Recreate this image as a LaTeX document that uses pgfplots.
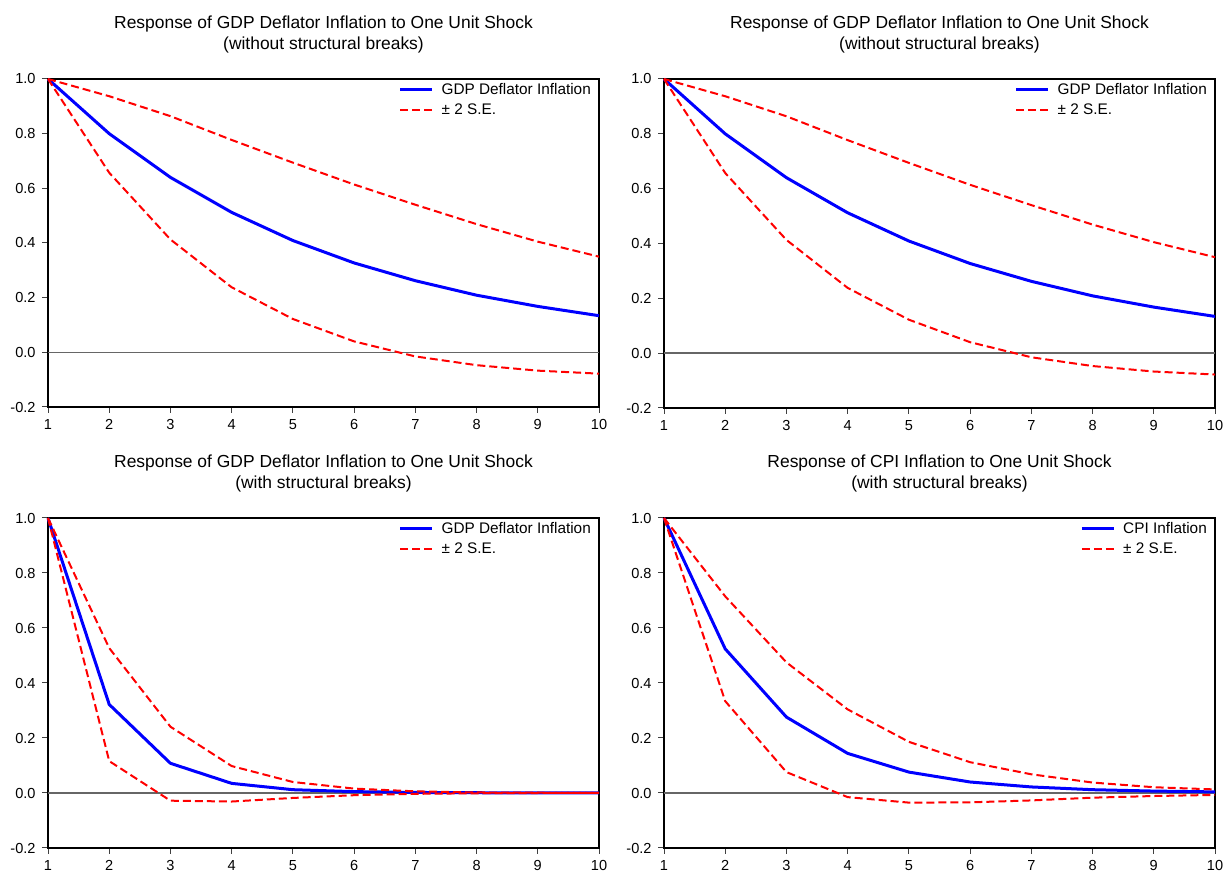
\documentclass[border=0pt]{standalone}
\usepackage{fontspec}
\setmainfont{Liberation Sans}
\usepackage{pgfplots}
\pgfplotsset{compat=1.18}
\definecolor{eblue}{RGB}{0,0,255}
\definecolor{ered}{RGB}{255,0,0}

\pgfplotsset{
 irf/.style={
  width=551bp, scale only axis,
  xmin=1, xmax=10, ymin=-0.2, ymax=1.0,
  xtick={1,2,3,4,5,6,7,8,9,10}, xticklabels={1,2,3,4,5,6,7,8,9,10},
  ytick={-0.2,0,0.2,0.4,0.6,0.8,1.0}, yticklabels={-0.2,0.0,0.2,0.4,0.6,0.8,1.0},
  tick pos=left, tick align=outside, major tick length=6bp,
  every tick/.style={black!75, line width=1bp},
  axis line style={black, line width=1.2bp},
  ticklabel style={font=\fontsize{14.6}{16}\selectfont},
  yticklabel style={xshift=-3bp},
  xticklabel style={yshift=-3bp},
  extra y ticks={0}, extra y tick labels={},
  extra y tick style={grid=major, major grid style={black!60, line width=1.5bp}, major tick length=0pt},
  clip=false,
  legend style={draw=none, fill=none, at={(1,1)}, anchor=north east, xshift=-6bp, yshift=-2bp,
     font=\fontsize{15.4}{18}\selectfont, row sep=4bp, inner sep=0pt},
  legend cell align=left,
  legend image code/.code={\draw[##1] (0bp,0bp) -- (32bp,0bp); \path (38bp,0bp);},
 },
 irfmain/.style={eblue, line width=3bp},
 irfse/.style={ered, line width=2bp, dash pattern=on 8bp off 4bp},
}
\newcommand\titlefont{\fontsize{17.5}{21}\selectfont}

\begin{document}
\begin{tikzpicture}
\useasboundingbox (0,0) rectangle (1229bp,873bp);

% ---------- top left ----------
\begin{axis}[irf, height=328bp, at={(48bp,466bp)}, anchor=south west]
\addplot[irfmain] coordinates {(1,1.0) (2,0.800) (3,0.640) (4,0.512) (5,0.409) (6,0.327) (7,0.262) (8,0.209) (9,0.168) (10,0.134)};
\addplot[irfse] coordinates {(1,1.0) (2,0.937) (3,0.864) (4,0.777) (5,0.694) (6,0.614) (7,0.540) (8,0.469) (9,0.405) (10,0.350)};
\addplot[irfse, forget plot] coordinates {(1,1.0) (2,0.657) (3,0.413) (4,0.238) (5,0.122) (6,0.040) (7,-0.015) (8,-0.047) (9,-0.067) (10,-0.078)};
\legend{GDP Deflator Inflation, ± 2 S.E.}
\node[anchor=base, font=\titlefont] at (rel axis cs:0.5,1) [yshift=50.7bp] {Response of GDP Deflator Inflation to One Unit Shock};
\node[anchor=base, font=\titlefont] at (rel axis cs:0.5,1) [yshift=29bp] {(without structural breaks)};
\end{axis}

% ---------- top right ----------
\begin{axis}[irf, height=329bp, at={(664bp,465bp)}, anchor=south west]
\addplot[irfmain] coordinates {(1,1.0) (2,0.800) (3,0.640) (4,0.512) (5,0.409) (6,0.327) (7,0.262) (8,0.209) (9,0.168) (10,0.134)};
\addplot[irfse] coordinates {(1,1.0) (2,0.937) (3,0.864) (4,0.777) (5,0.694) (6,0.614) (7,0.540) (8,0.469) (9,0.405) (10,0.350)};
\addplot[irfse, forget plot] coordinates {(1,1.0) (2,0.657) (3,0.413) (4,0.238) (5,0.122) (6,0.040) (7,-0.015) (8,-0.047) (9,-0.067) (10,-0.078)};
\legend{GDP Deflator Inflation, ± 2 S.E.}
\node[anchor=base, font=\titlefont] at (rel axis cs:0.5,1) [yshift=50.7bp] {Response of GDP Deflator Inflation to One Unit Shock};
\node[anchor=base, font=\titlefont] at (rel axis cs:0.5,1) [yshift=29bp] {(without structural breaks)};
\end{axis}

% ---------- bottom left ----------
\begin{axis}[irf, height=330bp, at={(48bp,25bp)}, anchor=south west]
\addplot[irfmain] coordinates {(1,1.0) (2,0.322) (3,0.108) (4,0.035) (5,0.012) (6,0.005) (7,0.002) (8,0.001) (9,0.0) (10,0.0)};
\addplot[irfse] coordinates {(1,1.0) (2,0.527) (3,0.241) (4,0.098) (5,0.040) (6,0.016) (7,0.006) (8,0.002) (9,0.001) (10,0.0)};
\addplot[irfse, forget plot] coordinates {(1,1.0) (2,0.116) (3,-0.028) (4,-0.031) (5,-0.018) (6,-0.008) (7,-0.003) (8,-0.001) (9,0.0) (10,0.0)};
\legend{GDP Deflator Inflation, ± 2 S.E.}
\node[anchor=base, font=\titlefont] at (rel axis cs:0.5,1) [yshift=50.7bp] {Response of GDP Deflator Inflation to One Unit Shock};
\node[anchor=base, font=\titlefont] at (rel axis cs:0.5,1) [yshift=29bp] {(with structural breaks)};
\end{axis}

% ---------- bottom right ----------
\begin{axis}[irf, height=330bp, at={(664bp,25bp)}, anchor=south west]
\addplot[irfmain] coordinates {(1,1.0) (2,0.524) (3,0.276) (4,0.144) (5,0.076) (6,0.040) (7,0.022) (8,0.012) (9,0.007) (10,0.004)};
\addplot[irfse] coordinates {(1,1.0) (2,0.715) (3,0.475) (4,0.304) (5,0.186) (6,0.112) (7,0.068) (8,0.038) (9,0.021) (10,0.013)};
\addplot[irfse, forget plot] coordinates {(1,1.0) (2,0.334) (3,0.076) (4,-0.015) (5,-0.035) (6,-0.034) (7,-0.027) (8,-0.017) (9,-0.011) (10,-0.007)};
\legend{CPI Inflation, ± 2 S.E.}
\node[anchor=base, font=\titlefont] at (rel axis cs:0.5,1) [yshift=50.7bp] {Response of CPI Inflation to One Unit Shock};
\node[anchor=base, font=\titlefont] at (rel axis cs:0.5,1) [yshift=29bp] {(with structural breaks)};
\end{axis}
\end{tikzpicture}
\end{document}
